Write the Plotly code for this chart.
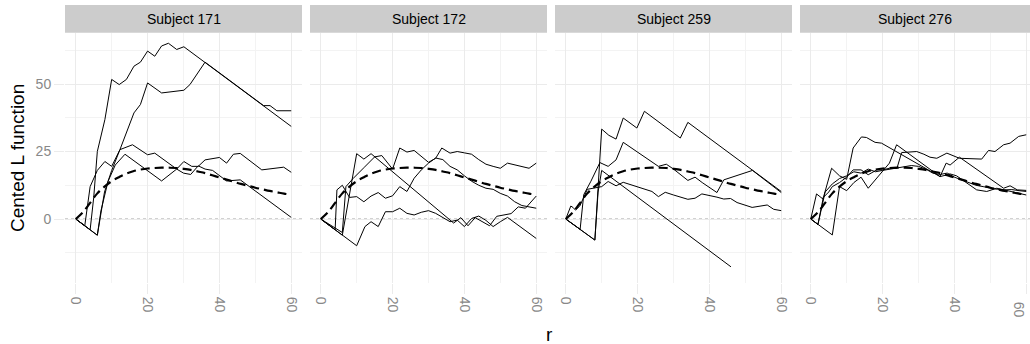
import plotly.graph_objects as go

# ---------------- data ----------------
subjects = ["Subject 171", "Subject 172", "Subject 259", "Subject 276"]
x_ticks = [0, 20, 40, 60]
y_ticks = [0, 25, 50]

# theoretical (dashed) curve, same in every panel
r_theory = [0, 2, 4, 6, 8, 10, 12, 14, 16, 18, 20, 22, 24, 26, 28, 30, 32, 34, 36, 38,
            40, 42, 44, 46, 48, 50, 52, 54, 56, 58, 60]
L_theory = [0, 2.5, 6, 9.5, 12, 14, 15.5, 16.8, 17.7, 18.3, 18.7, 18.9, 19, 19, 18.9, 18.6,
            18.2, 17.6, 17, 16.2, 15.4, 14.6, 13.8, 13, 12.3, 11.6, 11, 10.4, 9.9, 9.4, 9]

# Subject 171
s171_1_r = [0, 4, 5, 6, 8.1, 10, 12.1, 14.1, 16.2, 18, 20, 22, 23.9, 25.8, 28.1, 30.1, 60]
s171_1_L = [0, -4, 8, 25, 36.8, 51.7, 49.8, 51.7, 56.6, 58.1, 62.2, 60.3, 64.1, 65.1, 62.8, 63.8, 34.3]
s171_2_r = [0, 6, 8, 10, 12.3, 14.5, 16.2, 18, 20, 23.9, 30.1, 31.8, 36, 52.3, 54.1, 56, 60]
s171_2_L = [0, -6, 10, 18, 25.7, 33, 39.3, 42.4, 50.4, 46.7, 47.7, 49.8, 58.1, 42, 42, 40.1, 40.1]
s171_3_r = [0, 2.5, 4, 6, 8.1, 10, 12.3, 15.8, 20, 22, 28.1, 30.1, 32.3, 34.1, 36, 40, 42, 43.9,
            45.8, 51.8, 57.9, 60]
s171_3_L = [0, -2.5, 12, 18, 21.3, 19.5, 25.7, 27.5, 23.8, 24.4, 18.5, 21.3, 19.5, 19.5, 21.9,
            22.8, 20.7, 24, 24.3, 18.2, 19.2, 17.3]
s171_4_r = [0, 6, 7, 9, 11, 13.7, 23.9, 28.1, 30, 32, 34.1, 36, 38.1, 40, 42, 45.8, 60]
s171_4_L = [0, -6, 3, 14, 20, 24, 14.1, 18.5, 17, 16.5, 19.7, 18.5, 18, 16, 14.1, 14.5, 0.6]

# Subject 172
s172_1_r = [0, 6, 10, 12, 14, 37, 39, 41, 43, 45, 47, 49, 51, 53, 55, 57, 60]
s172_1_L = [0, -6, 24.2, 22.2, 24.2, -1.5, 0.5, -2.5, 0.5, -1, -2.5, 1, 1.5, 2, 4.5, 4, 8.5]
s172_2_r = [0, 6, 7, 9, 12, 15, 17, 19, 20, 22, 24, 26, 28, 30, 32, 33.7, 36, 38, 40, 42, 44,
            46, 48, 50, 52, 54, 56, 58, 60]
s172_2_L = [0, -5, 12, 15, 19, 23, 23.5, 20, 18.5, 26.3, 24.8, 25.4, 23.2, 21, 22.5, 26.3, 24.4,
            25, 24.5, 24, 22, 20.3, 19.5, 18.8, 20.7, 20, 19.5, 18.8, 20.7]
s172_3_r = [0, 4, 4.5, 6, 8, 10, 12, 14, 16, 18, 20, 22, 24, 26, 28, 30, 32, 34, 36, 38, 40,
            42, 44, 46, 48, 50, 52, 54, 56, 58, 60]
s172_3_L = [0, -4, 10.8, 12.5, 8, 8.3, 6.4, 8.5, 9.8, 7.7, 8.6, 12, 10.2, 15.1, 18.2, 20.7, 22.6,
            22, 19.5, 18.2, 16, 14, 12.5, 11.4, 11, 9.5, 8.5, 6.4, 5, 4.5, 4]
s172_4_r = [0, 10, 12.3, 14, 16, 18, 20, 22, 24, 26, 28, 30, 32, 34, 36, 38, 40, 42, 44, 46,
            48, 50, 52, 60]
s172_4_L = [0, -9.9, -2.8, -1, -2.8, 2.7, 2.7, 4, 2.1, 1.5, 2.5, 3.1, 2.1, 0.5, -1, -0.4, -2.8,
            0.2, 1.1, -0.5, -2.8, -1, 0.6, -7.2]

# Subject 259
s259_1_r = [0, 8.1, 10, 12, 14, 16, 19.8, 21.9, 31.9, 34, 60]
s259_1_L = [0, -7.8, 33.3, 31, 29.6, 37.4, 33.7, 39.9, 30, 35.8, 10.2]
s259_2_r = [0, 4, 5, 7, 9.5, 11.8, 14, 16, 25.8, 28, 30, 34, 36, 38, 42.1, 44, 52, 60]
s259_2_L = [0, -3.8, 9, 14, 20.9, 19.5, 21.9, 28.4, 19.5, 20.3, 18.5, 14.3, 15.5, 13.5, 9.8,
            14.5, 18, 9.8]
s259_3_r = [0, 1.4, 2, 2.7, 3.9, 6, 8, 10, 11.8, 14, 16, 19.8, 24, 25.8, 27.7, 30, 34, 36,
            37.9, 42.1, 44, 45.9, 47.7, 51.9, 56.1, 57.9, 60]
s259_3_L = [0, 4.8, 4.3, 3.3, 4.8, 11, 11.5, 12, 13.9, 12.3, 13.6, 12, 10.2, 8.3, 9.9, 8.9, 7.3,
            7.7, 9.3, 8.1, 7.4, 7.6, 6.1, 4.3, 5.2, 3.6, 3.1]
s259_4_r = [0, 8.1, 9, 10, 46]
s259_4_L = [0, -7.8, 10, 18, -17.7]

# Subject 276
s276_1_r = [0, 1.6, 3.4, 5.8, 8, 10, 11.8, 14.1, 15.5, 17.9, 19.7, 36, 37.7, 38.8, 41.4, 53.7,
            55.5, 57.5, 60]
s276_1_L = [0, 9.3, 7.4, 18.8, 16, 14.7, 26.3, 30.4, 30.2, 28.4, 28.1, 15.7, 20.7, 20, 22.9,
            11.4, 12.3, 10.8, 10.6]
s276_2_r = [0, 6, 8, 10, 12, 14, 16, 18, 20, 21.9, 23.9, 36, 38.8, 40.6, 46.2, 49, 51.8, 60]
s276_2_L = [0, -5.9, 12, 10.5, 13.5, 15.5, 11.4, 14.5, 17.6, 20.7, 27.5, 15.7, 16.7, 16, 10.8,
            10.2, 11.4, 8.9]
s276_3_r = [0, 2, 3.5, 5, 6, 8, 10, 11.8, 14, 16, 18.4, 20, 21.9, 24, 25.3, 29.5, 31.5, 33.2,
            35.1, 37.9, 41.4, 47.6, 49.5, 51.3, 53.7, 55.5, 57.9, 60]
s276_3_L = [0, -2, 8, 10, 12, 13.5, 15.5, 18.2, 18.2, 16.4, 18.2, 18.2, 18.8, 18.8, 24.6, 25,
            24, 22.9, 22.5, 24.4, 22.5, 22.2, 25.4, 25, 27.5, 28.1, 30.6, 31.2]
s276_4_r = [0, 2, 4, 6, 8, 10, 12, 14, 16, 18, 20, 22, 24, 26, 28, 30, 32, 34, 36, 38, 40, 42,
            44, 46, 48, 50, 52, 54, 56, 58, 60]
s276_4_L = [0, -2, 10, 13, 15, 16, 17.5, 17, 18.5, 17.5, 18, 18.5, 19, 19.5, 19.8, 19.5, 18.5,
            17, 16.5, 17, 15.5, 14.5, 13.5, 12.5, 12, 11.5, 11, 10.8, 10.9, 10.5, 10.2]

panel_lines = [
    [(s171_1_r, s171_1_L), (s171_2_r, s171_2_L), (s171_3_r, s171_3_L), (s171_4_r, s171_4_L)],
    [(s172_1_r, s172_1_L), (s172_2_r, s172_2_L), (s172_3_r, s172_3_L), (s172_4_r, s172_4_L)],
    [(s259_1_r, s259_1_L), (s259_2_r, s259_2_L), (s259_3_r, s259_3_L), (s259_4_r, s259_4_L)],
    [(s276_1_r, s276_1_L), (s276_2_r, s276_2_L), (s276_3_r, s276_3_L), (s276_4_r, s276_4_L)],
]

# ---------------- layout ----------------
W, H = 1030, 344
panel_px = [(65, 302), (310, 547), (555, 792), (800, 1030)]
x_ranges = [[-3, 63], [-3, 63], [-3, 63], [-3, 61.05]]
top_px, bot_px = 33, 283
y_dom = [(H - bot_px) / H, (H - top_px) / H]
y_range = [-23.7, 68.9]

FONT = "Liberation Sans, Arial, Helvetica, sans-serif"
GRID = "#ebebeb"
MINOR = "#f3f3f3"
TICKTXT = "#888888"

fig = go.Figure()
layout = dict(
    width=W, height=H, margin=dict(l=0, r=0, t=0, b=0),
    paper_bgcolor="white", plot_bgcolor="white", showlegend=False,
    font=dict(family=FONT, color="black"),
)
shapes = []
annotations = []

for i, (lines, (x0, x1)) in enumerate(zip(panel_lines, panel_px)):
    k = "" if i == 0 else str(i + 1)
    xa, ya = "x" + k, "y" + k
    last = i == len(panel_px) - 1
    for rr, LL in lines:
        fig.add_trace(go.Scatter(x=rr, y=LL, mode="lines", xaxis=xa, yaxis=ya,
                                 line=dict(color="black", width=1), hoverinfo="skip"))
    fig.add_trace(go.Scatter(x=r_theory, y=L_theory, mode="lines", xaxis=xa, yaxis=ya,
                             line=dict(color="black", width=2.2, dash="9px,5px", shape="spline"),
                             hoverinfo="skip"))
    # last panel is clipped by the page edge: its final tick label is drawn as an annotation
    shown = x_ticks[:-1] if last else x_ticks
    layout["xaxis" + k] = dict(
        domain=[x0 / W, x1 / W], range=x_ranges[i], anchor=ya,
        tickvals=x_ticks, ticktext=[str(v) if v in shown else "" for v in x_ticks],
        tickangle=90,
        ticks="outside", ticklen=10, tickcolor=GRID, tickwidth=1,
        tickfont=dict(size=14, color=TICKTXT, family=FONT),
        showgrid=True, gridcolor=GRID, gridwidth=1, zeroline=False, showline=False,
        minor=dict(tickvals=[10, 30, 50], showgrid=True, gridcolor=MINOR, gridwidth=1, ticks=""),
    )
    if last:
        annotations.append(dict(text=str(x_ticks[-1]), xref=xa, yref="paper",
                                x=x_ticks[-1], y=(H - 300) / H, textangle=90,
                                showarrow=False, xanchor="right", xshift=3, yanchor="top",
                                font=dict(size=14, color=TICKTXT, family=FONT)))
    layout["yaxis" + k] = dict(
        domain=y_dom, range=y_range, anchor=xa,
        tickvals=y_ticks, ticktext=[str(v) for v in y_ticks],
        showticklabels=(i == 0), ticks="outside" if i == 0 else "", ticklen=10,
        tickcolor=GRID, tickwidth=1,
        tickfont=dict(size=14, color=TICKTXT, family=FONT),
        showgrid=True, gridcolor=GRID, gridwidth=1, zeroline=False, showline=False,
        minor=dict(tickvals=[-12.5, 12.5, 37.5, 62.5], showgrid=True, gridcolor=MINOR,
                   gridwidth=1, ticks=""),
    )
    # dotted zero reference line
    shapes.append(dict(type="line", xref=xa + " domain", yref=ya, x0=0, x1=1, y0=0, y1=0,
                       line=dict(color="#a0a0a0", width=1, dash="dot"), layer="below"))
    # facet strip
    shapes.append(dict(type="rect", xref="paper", yref="paper", x0=x0 / W, x1=x1 / W,
                       y0=(H - 32.7) / H, y1=(H - 5) / H, fillcolor="#cccccc",
                       line=dict(width=0), layer="below"))
    annotations.append(dict(text=subjects[i], xref="paper", yref="paper",
                            x=(x0 + x1) / 2 / W, y=(H - 18.8) / H, showarrow=False,
                            xanchor="center", yanchor="middle",
                            font=dict(size=14, color="black", family=FONT)))

annotations.append(dict(text="Cented L function", xref="paper", yref="paper",
                        x=17 / W, y=(H - 158) / H, textangle=-90, showarrow=False,
                        xanchor="center", yanchor="middle",
                        font=dict(size=19, color="black", family=FONT)))
annotations.append(dict(text="r", xref="paper", yref="paper",
                        x=549 / W, y=(H - 334) / H, showarrow=False,
                        xanchor="center", yanchor="middle",
                        font=dict(size=19, color="black", family=FONT)))

layout["shapes"] = shapes
layout["annotations"] = annotations
fig.update_layout(**layout)
fig.write_html("out.html")
